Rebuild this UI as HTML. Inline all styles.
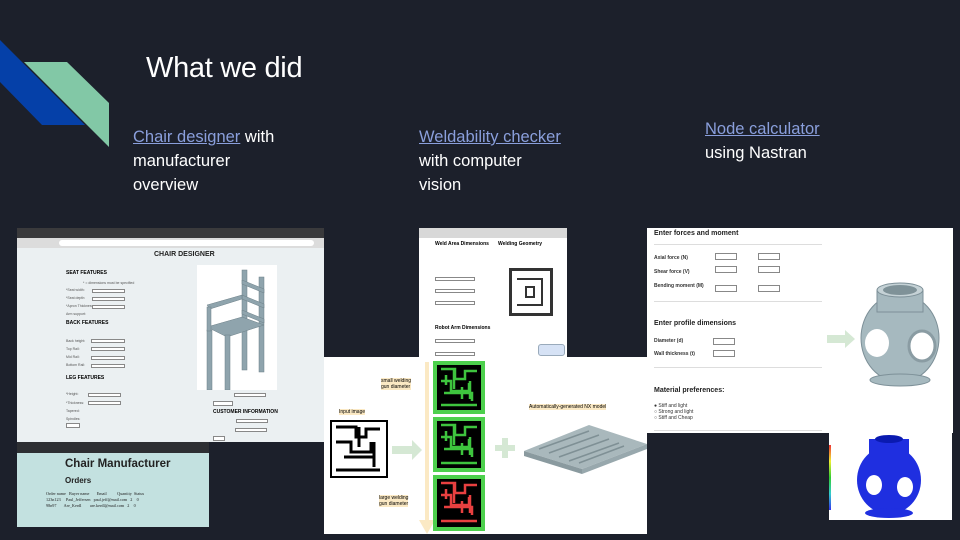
<!DOCTYPE html>
<html><head><meta charset="utf-8"><style>
*{margin:0;padding:0;box-sizing:border-box}
body{width:960px;height:540px;background:#1c202b;position:relative;overflow:hidden;font-family:"Liberation Sans",sans-serif}
.a{position:absolute}
.t{color:#fff;font-size:16.5px;line-height:24px}
.t a{color:#8a9fdc;text-decoration:underline}
.sm{font-size:5px;color:#333}
.lb{font-size:3.5px;color:#555;position:absolute}
.b{font-weight:bold}
.box{background:#fff;border:1px solid #888;position:absolute;height:4px}
</style></head><body>
<svg class="a" style="left:0;top:0" width="120" height="160">
<polygon points="0,40 85,125 42,125 0,82" fill="#0540a8"/>
<polygon points="24,62 67,62 109,103 109,147" fill="#82c8a6"/>
</svg>
<div class="a" style="left:146px;top:52px;color:#fff;font-size:29px;font-weight:300;letter-spacing:-0.3px">What we did</div>
<div class="a t" style="left:133px;top:125px;width:190px"><a>Chair designer</a> with<br>manufacturer<br>overview</div>
<div class="a t" style="left:419px;top:125px;width:190px"><a>Weldability checker</a><br>with computer<br>vision</div>
<div class="a t" style="left:705px;top:117px;width:190px"><a>Node calculator</a><br>using Nastran</div>

<!-- Chair designer -->
<div class="a" style="left:17px;top:228px;width:307px;height:214px;background:#ebf0f2">
 <div class="a" style="left:0;top:0;width:307px;height:10px;background:#3a3a3c"></div>
 <div class="a" style="left:0;top:10px;width:307px;height:10px;background:#dcdcdc"></div>
 <div class="a" style="left:42px;top:12px;width:255px;height:6px;background:#fff;border-radius:3px"></div>
 <div class="a b" style="left:137px;top:23px;font-size:7px;color:#222">CHAIR DESIGNER</div>
 <div class="a b" style="left:49px;top:42px;font-size:5px">SEAT FEATURES</div>
 <div class="a b" style="left:49px;top:92px;font-size:5px">BACK FEATURES</div>
 <div class="a b" style="left:49px;top:147px;font-size:5px">LEG FEATURES</div>
 <div class="lb" style="left:66px;top:53px">* = dimensions must be specified</div>
 <div class="lb" style="left:49px;top:60px">*Seat width:</div>
 <div class="lb" style="left:49px;top:68px">*Seat depth:</div>
 <div class="lb" style="left:49px;top:76px">*Apron Thickness:</div>
 <div class="lb" style="left:49px;top:84px">Arm support:</div>
 <div class="lb" style="left:49px;top:111px">Back height:</div>
 <div class="lb" style="left:49px;top:119px">Top Rail:</div>
 <div class="lb" style="left:49px;top:127px">Mid Rail:</div>
 <div class="lb" style="left:49px;top:135px">Bottom Rail:</div>
 <div class="lb" style="left:49px;top:164px">*Height:</div>
 <div class="lb" style="left:49px;top:173px">*Thickness:</div>
 <div class="lb" style="left:49px;top:181px">Tapered:</div>
 <div class="lb" style="left:49px;top:189px">Spindles:</div>
 <div class="box" style="left:49px;top:195px;width:14px;height:5px"></div>
 <div class="box" style="left:75px;top:61px;width:33px"></div>
 <div class="box" style="left:75px;top:69px;width:33px"></div>
 <div class="box" style="left:75px;top:77px;width:33px"></div>
 <div class="box" style="left:74px;top:111px;width:34px"></div>
 <div class="box" style="left:74px;top:119px;width:34px"></div>
 <div class="box" style="left:74px;top:128px;width:34px"></div>
 <div class="box" style="left:74px;top:136px;width:34px"></div>
 <div class="box" style="left:71px;top:165px;width:33px"></div>
 <div class="box" style="left:71px;top:173px;width:33px"></div>
 <div class="a" style="left:180px;top:37px;width:80px;height:125px;background:#fff">
  <svg width="80" height="125"><g fill="#8fa4ad" stroke="#6d8088" stroke-width="0.5">
   <rect x="45" y="5" width="5" height="100"/><rect x="62" y="12" width="5" height="95"/>
   <polygon points="45,15 67,24 67,28 45,19"/><polygon points="45,30 67,39 67,43 45,34"/><polygon points="45,45 67,54 67,58 45,49"/>
   <polygon points="10,62 45,52 67,60 30,72"/>
   <rect x="10" y="65" width="5" height="60"/><rect x="28" y="70" width="5" height="55"/>
   <polygon points="10,40 45,30 45,34 13,44"/><rect x="10" y="42" width="4" height="24"/>
  </g></svg>
 </div>
 <div class="box" style="left:217px;top:165px;width:32px"></div>
 <div class="box" style="left:196px;top:173px;width:20px;height:5px"></div>
 <div class="a b" style="left:196px;top:181px;font-size:5px">CUSTOMER INFORMATION</div>
 <div class="box" style="left:219px;top:191px;width:32px"></div>
 <div class="box" style="left:218px;top:200px;width:32px"></div>
 <div class="box" style="left:196px;top:208px;width:12px;height:5px"></div>
</div>
<!-- Chair manufacturer -->
<div class="a" style="left:17px;top:442px;width:192px;height:85px;background:#c3e1e0">
 <div class="a" style="left:0;top:0;width:192px;height:11px;background:#2d2f33"></div>
 <div class="a b" style="left:48px;top:16px;font-size:11.5px;color:#222">Chair Manufacturer</div>
 <div class="a b" style="left:48px;top:34px;font-size:8px;color:#222">Orders</div>
 <div class="a" style="left:29px;top:49px;font-size:4.2px;color:#222;font-family:'Liberation Serif',serif;line-height:6px;white-space:pre">Order name   Buyer name       Email          Quantity  Status
123n123     Paul_Jeffersen   paul.jeff@mail.com   2    0
98n97       Are_Kerdl        are.kerdl@mail.com   2    0</div>
</div>
<!-- Weld -->
<div class="a" style="left:419px;top:228px;width:148px;height:129px;background:#fff">
 <div class="a" style="left:0;top:0;width:148px;height:10px;background:#d8d8d8"></div>
 <div class="a b" style="left:16px;top:13px;font-size:5px">Weld Area Dimensions</div>
 <div class="a b" style="left:79px;top:13px;font-size:5px">Welding Geometry</div>
 <div class="box" style="left:16px;top:49px;width:40px"></div>
 <div class="box" style="left:16px;top:61px;width:40px"></div>
 <div class="box" style="left:16px;top:73px;width:40px"></div>
 <div class="a b" style="left:16px;top:97px;font-size:5px">Robot Arm Dimensions</div>
 <div class="box" style="left:16px;top:111px;width:40px"></div>
 <div class="box" style="left:16px;top:124px;width:40px"></div>
 <div class="a" style="left:90px;top:40px;width:44px;height:48px;border:3px solid #333"></div>
 <div class="a" style="left:98px;top:50px;width:26px;height:28px;border:2px solid #333;border-left:none"></div>
 <div class="a" style="left:106px;top:58px;width:10px;height:12px;border:2px solid #333"></div>
 <div class="a" style="left:119px;top:116px;width:27px;height:12px;background:#d6e2f5;border:1px solid #9ab;border-radius:3px"></div>
</div>
<!-- Maze figure -->
<div class="a" style="left:324px;top:357px;width:323px;height:177px;background:#fff">
 <div class="a" style="left:57px;top:21px;font-size:5px;background:#fbe9c4">small welding<br>gun diameter</div>
 <div class="a" style="left:15px;top:52px;font-size:5px;background:#fbe9c4">Input image</div>
 <div class="a" style="left:55px;top:138px;font-size:5px;background:#fbe9c4">large welding<br>gun diameter</div>
 <div class="a" style="left:205px;top:47px;font-size:5px;background:#fbe9c4">Automatically-generated NX model</div>
 <div class="a" style="left:101px;top:5px;width:4px;height:160px;background:#fbe9c4"></div>
 <svg class="a" style="left:0;top:0" width="323" height="177">
  <polygon points="95,163 111,163 103,177" fill="#fbe9c4"/>
  <rect x="68" y="89" width="22" height="8" fill="#d5e8d4"/><polygon points="88,83 98,93 88,103" fill="#d5e8d4"/>
  <rect x="171" y="88" width="20" height="6" fill="#d5e8d4"/><rect x="178" y="81" width="6" height="20" fill="#d5e8d4"/>
  <polygon points="200,94 265,68 323,87 258,112" fill="#a9b8bc"/>
  <polygon points="200,94 258,112 258,117 200,99" fill="#8a9a9f"/>
  <polygon points="258,112 323,87 323,92 258,117" fill="#98a8ad"/>
  <g stroke="#7f9095" stroke-width="1.5"><path d="M215,92l50,-18M225,96l50,-18M235,100l50,-18M245,104l50,-18M255,106l45,-17"/></g>
  <g fill="none" stroke="#000" stroke-width="3">
   <rect x="7" y="64" width="56" height="56" fill="#fff" stroke-width="2"/>
   <path d="M12,70h20v10h10v-8h14M12,85h15v10h20v-10M20,100h30v10M12,113h44M35,70v20M50,85v25"/>
  </g>
  <rect x="109" y="4" width="52" height="53" fill="#4dd04d"/><rect x="113" y="8" width="44" height="45" fill="#000"/>
  <rect x="109" y="60" width="52" height="55" fill="#4dd04d"/><rect x="113" y="64" width="44" height="47" fill="#000"/>
  <rect x="109" y="118" width="52" height="56" fill="#4dd04d"/><rect x="113" y="122" width="44" height="48" fill="#000"/>
  <g stroke="#3ec43e" stroke-width="2.5" fill="none">
   <path d="M117,12h14v10h10v-8h12M117,24h10v10h18v-8M120,36h28v8M117,48h36M130,12v20M146,24v18M122,18v10M138,30v12"/>
   <path d="M117,68h14v10h10v-8h12M117,80h10v10h18v-8M120,92h28v8M117,106h36M130,68v20M146,80v18M122,74v10M138,86v12"/>
  </g>
  <g stroke="#e84040" stroke-width="2.5" fill="none">
   <path d="M117,126h14v10h10v-8h12M117,138h10v10h18v-8M120,150h28v8M117,164h36M130,126v20M146,138v18M122,132v10M138,144v12"/>
  </g>
 </svg>
</div>
<!-- Node calc -->
<div class="a" style="left:647px;top:228px;width:306px;height:205px;background:#fff">
 <div class="a b" style="left:7px;top:2px;font-size:7px;color:#222">Enter forces and moment</div>
 <div class="a" style="left:7px;top:16px;width:168px;height:1px;background:#ddd"></div>
 <div class="a b sm" style="left:7px;top:27px">Axial force (N)</div>
 <div class="a b sm" style="left:7px;top:41px">Shear force (V)</div>
 <div class="a b sm" style="left:7px;top:55px">Bending moment (M)</div>
 <div class="box" style="left:68px;top:25px;width:22px;height:7px"></div>
 <div class="box" style="left:111px;top:25px;width:22px;height:7px"></div>
 <div class="box" style="left:68px;top:38px;width:22px;height:7px"></div>
 <div class="box" style="left:111px;top:38px;width:22px;height:7px"></div>
 <div class="box" style="left:68px;top:57px;width:22px;height:7px"></div>
 <div class="box" style="left:111px;top:57px;width:22px;height:7px"></div>
 <div class="a" style="left:7px;top:73px;width:168px;height:1px;background:#ddd"></div>
 <div class="a b" style="left:7px;top:92px;font-size:7px;color:#222">Enter profile dimensions</div>
 <div class="a b sm" style="left:7px;top:110px">Diameter (d)</div>
 <div class="a b sm" style="left:7px;top:123px">Wall thickness (t)</div>
 <div class="box" style="left:66px;top:110px;width:22px;height:7px"></div>
 <div class="box" style="left:66px;top:122px;width:22px;height:7px"></div>
 <div class="a" style="left:7px;top:139px;width:168px;height:1px;background:#ddd"></div>
 <div class="a b" style="left:7px;top:159px;font-size:7px;color:#222">Material preferences:</div>
 <div class="a sm" style="left:7px;top:175px;line-height:6px">● Stiff and light<br>○ Strong and light<br>○ Stiff and Cheap</div>
 <div class="a" style="left:7px;top:202px;width:168px;height:1px;background:#ddd"></div>
 <svg class="a" style="left:180px;top:0" width="126" height="205">
  <polygon points="0,107 18,107 18,102 28,111 18,120 18,115 0,115" fill="#d5e8d4"/>
  <g fill="#a6b9bf" stroke="#7d9098" stroke-width="1">
   <ellipse cx="73" cy="110" rx="39" ry="44"/>
   <rect x="50" y="62" width="46" height="22"/>
   <ellipse cx="73" cy="62" rx="23" ry="7" fill="#c5d2d6"/>
   <ellipse cx="73" cy="152" rx="30" ry="6"/>
  </g>
  <ellipse cx="73" cy="62" rx="17" ry="5" fill="#7f9298"/>
  <ellipse cx="50" cy="115" rx="12" ry="14" fill="#fff"/>
  <ellipse cx="95" cy="118" rx="13" ry="15" fill="#fff" stroke="#8a9ca3" stroke-width="3"/>
 </svg>
</div>
<div class="a" style="left:829px;top:425px;width:123px;height:95px;background:#fff">
 <div class="a" style="left:0;top:20px;width:2px;height:65px;background:linear-gradient(#e33,#ee3,#3c3,#3cc,#33e)"></div>
 <svg class="a" style="left:0;top:0" width="123" height="95">
  <g fill="#1f2fe0">
   <ellipse cx="60" cy="55" rx="32" ry="34"/>
   <rect x="40" y="14" width="40" height="20"/>
   <ellipse cx="60" cy="88" rx="24" ry="5"/>
  </g>
  <ellipse cx="60" cy="14" rx="14" ry="4" fill="#0a1ab0"/>
  <ellipse cx="45" cy="60" rx="8" ry="10" fill="#fff"/>
  <ellipse cx="76" cy="62" rx="8" ry="10" fill="#fff"/>
 </svg>
</div>
</body></html>
